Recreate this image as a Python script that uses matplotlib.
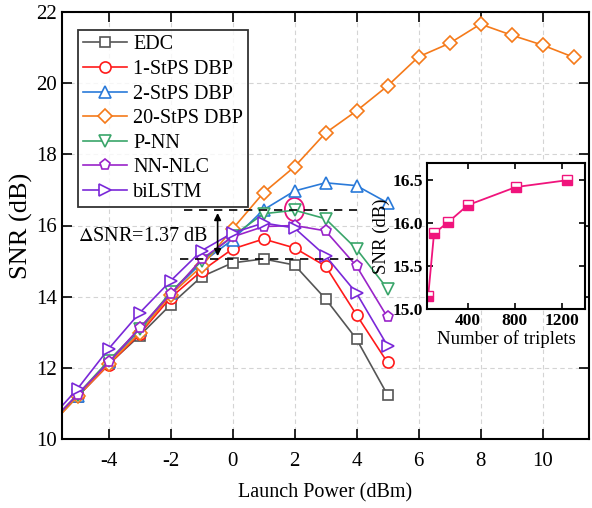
import matplotlib
matplotlib.use("Agg")
import matplotlib.pyplot as plt
from matplotlib.patches import Ellipse

plt.rcParams['font.family'] = ['Liberation Serif', 'DejaVu Serif']
plt.rcParams['mathtext.fontset'] = 'stix'
plt.rcParams['axes.unicode_minus'] = False

power = [-6, -5, -4, -3, -2, -1, 0, 1, 2, 3, 4, 5]
power_20 = [-6, -5, -4, -3, -2, -1, 0, 1, 2, 3, 4, 5, 6, 7, 8, 9, 10, 11]

edc = [10.3, 11.19, 12.1, 12.9, 13.77, 14.56, 14.95, 15.06, 14.89, 13.94, 12.81, 11.24]
stps1 = [10.3, 11.2, 12.08, 12.95, 13.97, 14.72, 15.34, 15.62, 15.37, 14.86, 13.49, 12.15]
stps2 = [10.3, 11.2, 12.15, 13.05, 14.1, 14.95, 15.6, 16.44, 16.97, 17.2, 17.12, 16.64]
stps20 = [10.25, 11.2, 12.1, 12.98, 14.05, 14.85, 15.9, 16.92, 17.65, 18.6, 19.22, 19.92,
          20.74, 21.12, 21.66, 21.35, 21.07, 20.73]
pnn = [10.35, 11.25, 12.2, 13.08, 14.12, 15.0, 15.7, 16.33, 16.43, 16.19, 15.34, 14.22]
nnnlc = [10.35, 11.25, 12.15, 13.12, 14.07, 15.05, 15.68, 15.97, 16.0, 15.85, 14.86, 13.42]
bilstm = [10.45, 11.41, 12.53, 13.54, 14.44, 15.29, 15.79, 16.07, 15.93, 15.15, 14.1, 12.62]

triplets = [60, 110, 230, 400, 810, 1250]
snr_triplets = [15.15, 15.88, 16.01, 16.21, 16.42, 16.5]

delta_top = 16.43
delta_bot = 15.06

fig = plt.figure(figsize=(5.92, 5.08), dpi=100)
ax = fig.add_axes([62/592, 1-439/508, (589-62)/592, (439-12)/508])

series = [
    (power, edc, 'EDC', '#555555', 's'),
    (power, stps1, '1-StPS DBP', '#ff1a1a', 'o'),
    (power, stps2, '2-StPS DBP', '#2a7ad9', '^'),
    (power_20, stps20, '20-StPS DBP', '#f57a1a', 'D'),
    (power, pnn, 'P-NN', '#3aa56a', 'v'),
    (power, nnnlc, 'NN-NLC', '#9a24c9', 'p'),
    (power, bilstm, 'biLSTM', '#7a28d8', '>'),
]
for x, y, lab, c, m in series:
    ms = 8
    if m == 'D':
        ms = 7
    if m == 's':
        ms = 7.5
    ax.plot(x, y, color=c, lw=1.2, marker=m, ms=ms, mfc='white', mec=c, mew=1.2, label=lab)

ax.set_xlim(-5.5, 11.5)
ax.set_ylim(10, 22)
ax.set_xticks([-4, -2, 0, 2, 4, 6, 8, 10])
ax.set_yticks([10, 12, 14, 16, 18, 20, 22])
ax.tick_params(direction='in', top=True, right=True, length=7, width=1.2, labelsize=15)
ax.tick_params(axis='x', pad=9)
for s in ax.spines.values():
    s.set_linewidth(1.5)
ax.grid(True, ls=(0, (4, 3)), color='#d4d4d4', lw=0.8)
ax.set_axisbelow(True)
ax.set_xlabel('Launch Power (dBm)', fontsize=14.5, labelpad=9)
ax.set_ylabel('SNR (dB)', fontsize=19, labelpad=2)

leg = ax.legend(loc='upper left', bbox_to_anchor=(0.03, 0.957), fontsize=14.5, frameon=True,
                fancybox=False, edgecolor='black', handlelength=2.2, labelspacing=0.27,
                borderpad=0.25, handletextpad=0.3, borderaxespad=0)
leg.get_frame().set_linewidth(1.3)

ax.hlines(delta_top, -1.55, 4.0, colors='black', linestyles=(0, (5, 4)), lw=1.2)
ax.hlines(delta_bot, -1.68, 4.1, colors='black', linestyles=(0, (5, 4)), lw=1.2)
ax.annotate('', xy=(-0.48, delta_top), xytext=(-0.48, delta_bot),
            arrowprops=dict(arrowstyle='<|-|>', color='black', lw=1.2, mutation_scale=10))
ax.text(-5.0, 15.68, r'$\Delta$SNR=1.37 dB', fontsize=14.5, va='center', ha='left')
ax.add_patch(Ellipse((2.0, 16.45), 0.62, 0.65, fill=False, ec='#e6147c', lw=1.3))

ins = fig.add_axes([427/592, 1-309/508, (585-427)/592, (309-163)/508])
ins.plot(triplets, snr_triplets, color='#f0147c', lw=1.3, marker='s', ms=7,
         fillstyle='bottom', mfc='#f0147c', mfcalt='white', mec='#f0147c', mew=1.0)
ins.set_xlim(50, 1400)
ins.set_ylim(15.0, 16.7)
ins.set_xticks([400, 800, 1200])
ins.set_yticks([15.0, 15.5, 16.0, 16.5])
ins.set_yticklabels(['15.0', '15.5', '16.0', '16.5'], fontweight='bold')
ins.set_xticklabels(['400', '800', '1200'], fontweight='bold')
ins.tick_params(direction='in', top=True, right=True, length=4, width=1.2, labelsize=12.5, pad=3)
for s in ins.spines.values():
    s.set_linewidth(1.5)
ins.set_xlabel('Number of triplets', fontsize=13.5, labelpad=1)
ins.set_ylabel('SNR (dB)', fontsize=13.5, labelpad=2)

fig.savefig('out.png', dpi=100)
